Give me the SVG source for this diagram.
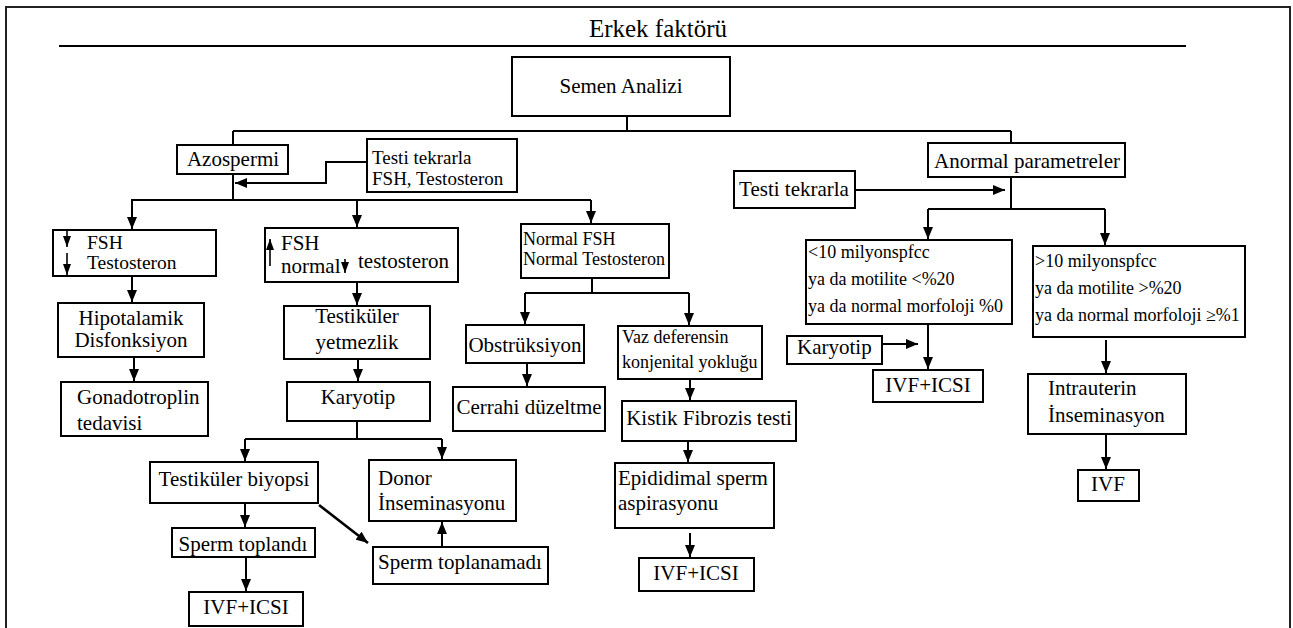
<svg xmlns="http://www.w3.org/2000/svg" width="1293" height="628" viewBox="0 0 1293 628">
<style>
text{font-family:"Liberation Serif","Times New Roman",serif;font-size:21px;fill:#000}
.c{text-anchor:middle}
.s{font-size:18px}
.s20{font-size:19px}
.s19{font-size:19.5px}
rect.b{fill:#fff;stroke:#000;stroke-width:2}
#connectors path{fill:none;stroke:#000;stroke-width:2}
.ia{fill:none;stroke:#000;stroke-width:1.6}
</style>
<defs>
<marker id="ah" markerWidth="12" markerHeight="10" refX="12" refY="5" orient="auto" markerUnits="userSpaceOnUse"><path d="M0,0 L12,5 L0,10 z" fill="#000"/></marker>
<marker id="sh" markerWidth="11" markerHeight="8" refX="11" refY="4" orient="auto" markerUnits="userSpaceOnUse"><path d="M0,0 L11,4 L0,8 z" fill="#000"/></marker>
</defs>
<rect x="6" y="7" width="1284" height="640" fill="#fff" stroke="#222" stroke-width="2"/>
<g id="title">
<text class="c" x="658" y="37" style="font-size:25px">Erkek faktörü</text>
<path d="M59,46 H1186" stroke="#000" stroke-width="2"/>
</g>
<g id="connectors">
<path d="M627,116 V131"/>
<path d="M233,131 H1011"/>
<path d="M233,131 V145"/>
<path d="M1011,131 V143"/>
<path d="M233,174 V200"/>
<path d="M367,162 H326 V183 H235" marker-end="url(#ah)"/>
<path d="M131,200 H591"/>
<path d="M132,200 V229" marker-end="url(#ah)"/>
<path d="M357,200 V227" marker-end="url(#ah)"/>
<path d="M591,200 V223" marker-end="url(#ah)"/>
<path d="M132,276 V302" marker-end="url(#ah)"/>
<path d="M134,357 V381" marker-end="url(#ah)"/>
<path d="M357,282 V305" marker-end="url(#ah)"/>
<path d="M358,359 V381" marker-end="url(#ah)"/>
<path d="M357,421 V440"/>
<path d="M245,439 H442"/>
<path d="M245,439 V461" marker-end="url(#ah)"/>
<path d="M442,439 V459" marker-end="url(#ah)"/>
<path d="M245,503 V527" marker-end="url(#ah)"/>
<path d="M246,557 V591" marker-end="url(#ah)"/>
<path d="M319,505 L368,543" marker-end="url(#ah)" style="stroke-width:2.6"/>
<path d="M442,547 V522" marker-end="url(#ah)"/>
<path d="M592,278 V294"/>
<path d="M525,293 H689"/>
<path d="M525,293 V324" marker-end="url(#ah)"/>
<path d="M689,293 V325" marker-end="url(#ah)"/>
<path d="M527,363 V386" marker-end="url(#ah)"/>
<path d="M690,379 V400" marker-end="url(#ah)"/>
<path d="M688,441 V462" marker-end="url(#ah)"/>
<path d="M690,533 V557" marker-end="url(#ah)"/>
<path d="M1011,177 V209"/>
<path d="M928,209 H1105"/>
<path d="M928,209 V239" marker-end="url(#ah)"/>
<path d="M1105,209 V245" marker-end="url(#ah)"/>
<path d="M855,190 H1005" marker-end="url(#ah)"/>
<path d="M882,344 H918" marker-end="url(#ah)"/>
<path d="M928,324 V369" marker-end="url(#ah)"/>
<path d="M1106,340 V373" marker-end="url(#ah)"/>
<path d="M1106,434 V469" marker-end="url(#ah)"/>
</g>
<g id="semen"><rect class="b" x="512" y="57" width="218" height="59"/><text class="c" x="621" y="93">Semen Analizi</text></g>
<g id="azospermi"><rect class="b" x="177" y="145" width="111" height="29"/><text class="c" x="233" y="166">Azospermi</text></g>
<g id="testi1"><rect class="b" x="367" y="139" width="150" height="53"/><text class="s20" x="372" y="164">Testi tekrarla</text><text class="s20" x="372" y="185">FSH, Testosteron</text></g>
<g id="anormal"><rect class="b" x="928" y="143" width="197" height="34"/><text class="c" x="1027" y="168">Anormal parametreler</text></g>
<g id="testi2"><rect class="b" x="734" y="171" width="121" height="37"/><text class="c" x="794" y="196">Testi tekrarla</text></g>
<g id="lowfsh"><rect class="b" x="53" y="230" width="163" height="46"/>
<path class="ia" d="M67,231 V247" marker-end="url(#sh)"/><path class="ia" d="M67,253 V275" marker-end="url(#sh)"/>
<text class="s19" x="87" y="249">FSH</text><text class="s19" x="87" y="269">Testosteron</text></g>
<g id="highfsh"><rect class="b" x="265" y="228" width="193" height="54"/>
<path class="ia" d="M270,266 V239" marker-end="url(#sh)"/><path class="ia" d="M345,259 V273" marker-end="url(#sh)"/>
<text x="281" y="250">FSH</text><text x="281" y="273">normal</text><text x="358" y="268">testosteron</text></g>
<g id="hipotalamik"><rect class="b" x="58" y="303" width="146" height="54"/><text class="c" x="131" y="325">Hipotalamik</text><text class="c" x="131" y="347">Disfonksiyon</text></g>
<g id="gonado"><rect class="b" x="61" y="382" width="147" height="54"/><text x="77" y="404">Gonadotroplin</text><text x="77" y="430">tedavisi</text></g>
<g id="yetmezlik"><rect class="b" x="284" y="306" width="146" height="53"/><text class="c" x="357" y="323">Testiküler</text><text class="c" x="357" y="349">yetmezlik</text></g>
<g id="karyotip1"><rect class="b" x="287" y="382" width="143" height="39"/><text class="c" x="358" y="404">Karyotip</text></g>
<g id="biyopsi"><rect class="b" x="150" y="462" width="168" height="41"/><text class="c" x="234" y="486">Testiküler biyopsi</text></g>
<g id="toplandi"><rect class="b" x="172" y="528" width="143" height="29"/><text class="c" x="243" y="551">Sperm toplandı</text></g>
<g id="ivficsi1"><rect class="b" x="189" y="592" width="114" height="34"/><text class="c" x="246" y="614">IVF+ICSI</text></g>
<g id="donor"><rect class="b" x="369" y="460" width="147" height="61"/><text x="378" y="485">Donor</text><text x="378" y="510">İnseminasyonu</text></g>
<g id="toplanamadi"><rect class="b" x="373" y="547" width="175" height="37"/><text class="c" x="460" y="569">Sperm toplanamadı</text></g>
<g id="normalfsh"><rect class="b" x="521" y="224" width="148" height="54"/><text class="s" x="523" y="245">Normal FSH</text><text class="s" x="523" y="265">Normal Testosteron</text></g>
<g id="obstruksiyon"><rect class="b" x="466" y="325" width="118" height="38"/><text class="c" x="525" y="352">Obstrüksiyon</text></g>
<g id="cerrahi"><rect class="b" x="453" y="387" width="152" height="44"/><text class="c" x="529" y="414">Cerrahi düzeltme</text></g>
<g id="vaz"><rect class="b" x="618" y="326" width="144" height="53"/><text class="s" x="622" y="343">Vaz deferensin</text><text class="s" x="622" y="368">konjenital yokluğu</text></g>
<g id="kistik"><rect class="b" x="622" y="401" width="174" height="40"/><text class="c" x="709" y="425">Kistik Fibrozis testi</text></g>
<g id="epididimal"><rect class="b" x="615" y="463" width="159" height="65"/><text x="618" y="485">Epididimal sperm</text><text x="618" y="510">aspirasyonu</text></g>
<g id="ivficsi2"><rect class="b" x="639" y="558" width="115" height="33"/><text class="c" x="696" y="580">IVF+ICSI</text></g>
<g id="lt10"><rect class="b" x="806" y="240" width="206" height="84"/><text class="s" x="808" y="258">&lt;10 milyonspfcc</text><text class="s" x="808" y="285">ya da motilite &lt;%20</text><text class="s" x="808" y="312">ya da normal morfoloji %0</text></g>
<g id="karyotip2"><rect class="b" x="787" y="336" width="95" height="28"/><text x="797" y="354">Karyotip</text></g>
<g id="ivficsi3"><rect class="b" x="873" y="370" width="110" height="32"/><text class="c" x="928" y="392">IVF+ICSI</text></g>
<g id="gt10"><rect class="b" x="1033" y="246" width="212" height="91"/><text class="s" x="1035" y="267">&gt;10 milyonspfcc</text><text class="s" x="1035" y="294">ya da motilite &gt;%20</text><text class="s" x="1035" y="321">ya da normal morfoloji ≥%1</text></g>
<g id="intrauterin"><rect class="b" x="1028" y="374" width="158" height="60"/><text x="1048" y="395">Intrauterin</text><text x="1048" y="422">İnseminasyon</text></g>
<g id="ivf"><rect class="b" x="1078" y="470" width="61" height="31"/><text class="c" x="1108" y="491">IVF</text></g>
</svg>
